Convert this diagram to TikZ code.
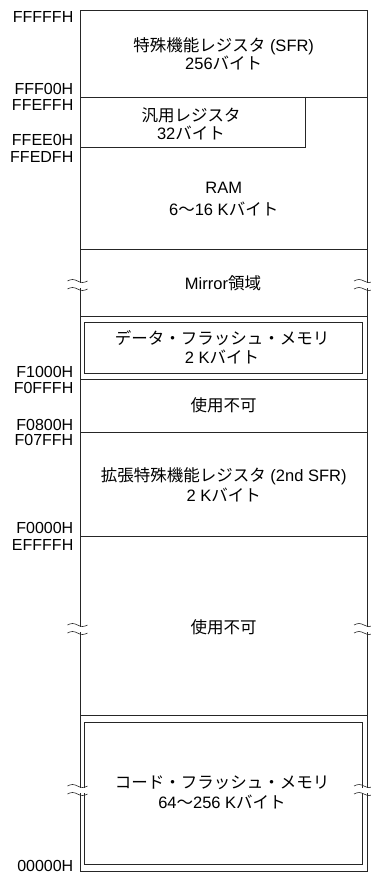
\documentclass[tikz,border=0pt]{standalone}
\usepackage{fontspec}
\setmainfont{Liberation Sans}
\newfontfamily\cjk{Noto Sans CJK JP}
\newcommand\brkmark[2]{%
  \fill[white] (#1-6,#2-2.5) rectangle (#1+5,#2+2.5);
  \foreach \d in {-4,4}{\draw[frame,line width=0.6pt] (#1-13,#2+\d) sin (#1-8,#2+\d-1.5) cos (#1-3,#2+\d) sin (#1+2,#2+\d+1.5) cos (#1+7,#2+\d);}%
}
\begin{document}
\begin{tikzpicture}[x=1pt,y=-1pt,
  frame/.style={draw=black!85,line width=0.8pt},
  lbl/.style={anchor=east,inner sep=0pt,font=\fontsize{16}{18}\selectfont},
  txt/.style={align=center,inner sep=0pt,font=\fontsize{16.5}{20}\selectfont}]
\useasboundingbox (0,0) rectangle (370,874);
% frame
\draw[frame] (80.5,10) rectangle (367,871);
\foreach \yy in {97,249,316,379,432,536,715}{\draw[frame] (80.5,\yy) -- (367,\yy);}
\draw[frame] (305,97) -- (305,147) -- (80.5,147);
\draw[frame] (84,322) rectangle (362,373);
\draw[frame] (84,722) rectangle (362,864);
% break marks
\brkmark{80.5}{285}
\brkmark{367}{285}
\brkmark{80.5}{629}
\brkmark{367}{629}
\brkmark{80.5}{790}
\brkmark{367}{790}
% address labels
\node[lbl] (a1) at (73.5,17) {FFFFFH};
\node[lbl] (a2) at (73.5,89) {FFF00H};
\node[lbl] (a3) at (73.5,105) {FFEFFH};
\node[lbl] (a4) at (73.5,140) {FFEE0H};
\node[lbl] (a5) at (73.5,157) {FFEDFH};
\node[lbl] (a6) at (73.5,372) {F1000H};
\node[lbl] (a7) at (73.5,388) {F0FFFH};
\node[lbl] (a8) at (73.5,425) {F0800H};
\node[lbl] (a9) at (73.5,440) {F07FFH};
\node[lbl] (a10) at (73.5,528) {F0000H};
\node[lbl] (a11) at (73.5,545) {EFFFFH};
\node[lbl] (a12) at (73.5,866) {00000H};
% region texts
\node[txt,font=\fontsize{16.5}{18}\selectfont] (sfr) at (223.7,54) {{\cjk 特殊機能レジスタ} (SFR)\\256{\cjk バイト}};
\node[txt,font=\fontsize{16.5}{18}\selectfont] (gen) at (191,124) {{\cjk 汎用レジスタ}\\32{\cjk バイト}};
\node[txt,font=\fontsize{16.5}{22}\selectfont] (ram) at (223.7,199) {RAM\\6{\cjk 〜}16 K{\cjk バイト}};
\node[txt] (mir) at (223,283) {Mirror{\cjk 領域}};
\node[txt,font=\fontsize{16.5}{19}\selectfont] (df) at (222,347.5) {{\cjk データ・フラッシュ・メモリ}\\2 K{\cjk バイト}};
\node[txt] (na1) at (223.7,405) {\cjk 使用不可};
\node[txt] (sfr2) at (223.7,485) {{\cjk 拡張特殊機能レジスタ} (2nd SFR)\\2 K{\cjk バイト}};
\node[txt] (na2) at (223.7,627) {\cjk 使用不可};
\node[txt] (cf) at (222,792) {{\cjk コード・フラッシュ・メモリ}\\64{\cjk 〜}256 K{\cjk バイト}};
\end{tikzpicture}
\end{document}
